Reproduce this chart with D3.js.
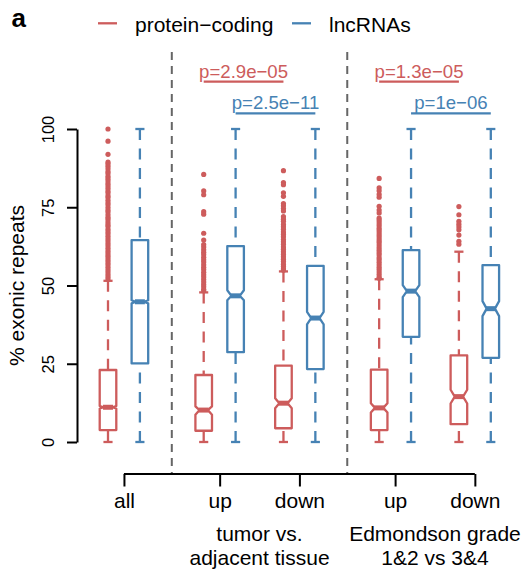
<!DOCTYPE html>
<html>
<head>
<meta charset="utf-8">
<script src="https://cdn.jsdelivr.net/npm/d3@7"></script>
<style>
  html, body { margin: 0; padding: 0; background: #fff; }
  svg { display: block; font-family: "Liberation Sans", Arial, Helvetica, sans-serif; }
</style>
</head>
<body>
<svg id="chart" width="525" height="570"></svg>
<script>
// Categories along the x axis and the section each one belongs to
const categories = ["all", "up", "down", "up", "down"];
const sectionOf = [0, 1, 1, 2, 2];
const sectionLabels = [[], ["tumor vs.", "adjacent tissue"], ["Edmondson grade", "1&2 vs 3&4"]];
const seriesNames = ["protein\u2212coding", "lncRNAs"];
const yTicks = [0, 25, 50, 75, 100];

// Box statistics, protein-coding genes (% exonic repeats)
const pcLow = [0, 0, 0, 0, 0];
const pcQ1 = [3.8, 3.6, 4.4, 3.8, 5.7];
const pcMed = [11.1, 10.2, 12.4, 10.9, 14.5];
const pcQ3 = [23.0, 21.4, 24.4, 23.1, 27.7];
const pcHigh = [51.5, 47.8, 54.5, 52.0, 60.8];
const pcNotchLo = [10.7, 8.7, 10.8, 9.4, 12.3];
const pcNotchHi = [11.5, 11.4, 14.0, 12.4, 16.7];
const pcOutliers = [
  [100, 96.1, 91.9, 89.4, 88.8, 88.1, 87.3, 86.4, 85.8, 84.9, 84.2, 83.5, 82.6, 81.9, 81.1,
   80.2, 79.6, 78.7, 78.1, 77.2, 76.4, 75.8, 74.9, 74.1, 73.5, 72.6, 71.8, 71.2, 70.3, 69.5,
   68.9, 68.0, 67.2, 66.5, 65.7, 64.9, 64.2, 63.4, 62.7, 61.9, 61.1, 60.4, 59.6, 58.9, 58.1,
   57.3, 56.6, 55.8, 55.0, 54.3, 53.5, 52.8, 52.1],
  [85.5, 80.2, 79.0, 73.6, 72.8, 66.7, 64.5, 63.1, 62.3, 61.4, 60.6, 59.9, 59.0, 58.2, 57.5,
   56.6, 55.8, 55.1, 54.2, 53.4, 52.7, 51.9, 51.1, 50.3, 49.6, 48.8, 48.3],
  [86.7, 82.9, 82.2, 79.6, 78.5, 76.2, 75.5, 74.6, 73.8, 72.0, 71.2, 70.5, 69.5, 68.8, 68.0,
   67.1, 66.4, 65.6, 64.7, 64.0, 63.2, 62.3, 61.6, 60.8, 60.0, 59.2, 58.4, 57.7, 56.8, 56.1,
   55.3, 54.9],
  [84.2, 81.2, 80.3, 79.1, 78.2, 75.3, 74.1, 73.2, 71.5, 70.8, 70.0, 69.2, 68.3, 67.6, 66.8,
   66.0, 65.2, 64.4, 63.7, 62.9, 62.1, 61.3, 60.5, 59.8, 58.9, 58.2, 57.4, 56.6, 55.8, 55.1,
   54.3, 53.5, 52.7, 52.3],
  [75.2, 72.6, 70.5, 69.6, 68.7, 67.8, 66.1, 64.1, 63.2]
];

// Box statistics, lncRNAs
const lncLow = [0, 0, 0, 0, 0];
const lncQ1 = [25.1, 28.7, 23.3, 33.6, 26.9];
const lncMed = [44.8, 46.7, 39.6, 48.2, 42.6];
const lncQ3 = [64.5, 62.6, 56.3, 61.3, 56.5];
const lncHigh = [100, 100, 100, 100, 100];
const lncNotchLo = [44.3, 45.3, 37.6, 46.3, 40.2];
const lncNotchHi = [45.3, 48.5, 41.6, 50.1, 45.0];
const lncOutliers = [[], [], [], [], []];

// Wilcoxon p-values for up vs down within each comparison section
const pSections = [1, 2];
const pcPValues = ["p=2.9e\u221205", "p=1.3e\u221205"];
const lncPValues = ["p=2.5e\u221211", "p=1e\u221206"];

const colors = ["#CD5C5C", "#4682B4"];
const font = 21;

const svg = d3.select("#chart");

// Box slot positions: pairs 2.5 apart inside a section, 3 apart across sections
const slot = [];
categories.forEach((c, i) => {
  if (i === 0) slot.push(1);
  else slot.push(slot[i - 1] + (sectionOf[i] !== sectionOf[i - 1] ? 3 : 2.5));
});
const dividers = slot.filter((p, i) => i > 0 && sectionOf[i] !== sectionOf[i - 1]).map(p => p - 1);

const x = d3.scaleLinear().domain([1, 13]).range([108, 490.8]);
const y = d3.scaleLinear().domain([0, 100]).range([442, 129]);
const halfW = x(1.26) - x(1);

// Section dividers
svg.append("g").selectAll("line").data(dividers).join("line")
  .attr("x1", d => x(d)).attr("x2", d => x(d))
  .attr("y1", 52).attr("y2", 473)
  .attr("stroke", "#666").attr("stroke-width", 2)
  .attr("stroke-dasharray", "8,6");

// Y axis
const yAxis = svg.append("g").attr("transform", "translate(77,0)")
  .call(d3.axisLeft(y).tickValues(yTicks).tickSize(10).tickSizeOuter(0));
yAxis.select(".domain").attr("stroke", "#000").attr("stroke-width", 2);
yAxis.selectAll(".tick line").attr("stroke", "#000").attr("stroke-width", 2);
yAxis.selectAll(".tick text")
  .attr("x", 0).attr("dy", 0)
  .attr("transform", "translate(-23.5,0) rotate(-90)")
  .attr("text-anchor", "middle")
  .attr("font-size", 16.5).attr("fill", "#000")
  .attr("font-family", "Liberation Sans, Arial, sans-serif");

svg.append("text")
  .attr("transform", `translate(24,${(y(0) + y(100)) / 2}) rotate(-90)`)
  .attr("text-anchor", "middle").attr("font-size", font)
  .text("% exonic repeats");

// X axis: line spans from first to last category tick
const centers = slot.map(p => p + 0.5);
const xAxis = svg.append("g").attr("transform", "translate(0,474)")
  .call(d3.axisBottom(x).tickValues(centers).tickFormat((d, i) => categories[i]).tickSize(12.5).tickSizeOuter(0));
xAxis.select(".domain").remove();
xAxis.append("line")
  .attr("x1", x(centers[0])).attr("x2", x(centers[centers.length - 1]))
  .attr("stroke", "#000").attr("stroke-width", 2);
xAxis.selectAll(".tick line").attr("stroke", "#000").attr("stroke-width", 2);
xAxis.selectAll(".tick text")
  .attr("y", 34).attr("dy", 0)
  .attr("font-size", font).attr("fill", "#000")
  .attr("font-family", "Liberation Sans, Arial, sans-serif");

// Section labels under the category ticks
sectionLabels.forEach((lines, s) => {
  if (!lines.length) return;
  const idx = sectionOf.map((v, i) => v === s ? i : -1).filter(i => i >= 0);
  const cx = d3.mean(idx, i => x(centers[i]));
  lines.forEach((t, k) => {
    svg.append("text").attr("x", cx).attr("y", 540.5 + k * 24)
      .attr("text-anchor", "middle").attr("font-size", font).text(t);
  });
});

// Notched boxplots
const seriesStats = [
  { low: pcLow, q1: pcQ1, med: pcMed, q3: pcQ3, high: pcHigh, nlo: pcNotchLo, nhi: pcNotchHi, out: pcOutliers },
  { low: lncLow, q1: lncQ1, med: lncMed, q3: lncQ3, high: lncHigh, nlo: lncNotchLo, nhi: lncNotchHi, out: lncOutliers }
];

seriesStats.forEach((st, si) => {
  const col = colors[si];
  const g = svg.append("g");
  categories.forEach((c, i) => {
    const cx = x(slot[i] + si);
    // whiskers drawn from the extremes toward the box
    [[st.low[i], st.q1[i]], [st.high[i], st.q3[i]]].forEach(([a, b]) => {
      g.append("line").attr("x1", cx).attr("x2", cx).attr("y1", y(a)).attr("y2", y(b))
        .attr("stroke", col).attr("stroke-width", 2.3).attr("stroke-dasharray", "11,8.5");
      g.append("line").attr("x1", cx - halfW * 0.55).attr("x2", cx + halfW * 0.55)
        .attr("y1", y(a)).attr("y2", y(a))
        .attr("stroke", col).attr("stroke-width", 2.3);
    });
    const pts = [
      [cx - halfW, y(st.q1[i])], [cx + halfW, y(st.q1[i])], [cx + halfW, y(st.nlo[i])],
      [cx + halfW * 0.5, y(st.med[i])], [cx + halfW, y(st.nhi[i])], [cx + halfW, y(st.q3[i])],
      [cx - halfW, y(st.q3[i])], [cx - halfW, y(st.nhi[i])], [cx - halfW * 0.5, y(st.med[i])],
      [cx - halfW, y(st.nlo[i])]
    ];
    g.append("path").attr("d", "M" + pts.map(p => p.join(",")).join("L") + "Z")
      .attr("fill", "#fff").attr("stroke", col).attr("stroke-width", 2.3)
      .attr("stroke-linejoin", "round");
    g.append("line").attr("x1", cx - halfW * 0.6).attr("x2", cx + halfW * 0.6)
      .attr("y1", y(st.med[i])).attr("y2", y(st.med[i]))
      .attr("stroke", col).attr("stroke-width", 5);
    g.selectAll(null).data(st.out[i]).join("circle")
      .attr("cx", cx).attr("cy", d => y(d)).attr("r", 2.6).attr("fill", col);
  });
});

// p-value brackets between up and down within each section
[pcPValues, lncPValues].forEach((vals, si) => {
  const ly = si === 0 ? 81.7 : 113.3;
  pSections.forEach((s, k) => {
    const idx = sectionOf.map((v, i) => v === s ? i : -1).filter(i => i >= 0);
    const x1 = x(slot[idx[0]] + si), x2 = x(slot[idx[1]] + si);
    svg.append("line").attr("x1", x1).attr("x2", x2).attr("y1", ly).attr("y2", ly)
      .attr("stroke", colors[si]).attr("stroke-width", 2.3);
    svg.append("text").attr("x", (x1 + x2) / 2).attr("y", ly - 4)
      .attr("text-anchor", "middle").attr("font-size", 18.6).attr("fill", colors[si])
      .text(vals[k]);
  });
});

// Legend
const legendX = [98, 292];
seriesNames.forEach((name, si) => {
  svg.append("line").attr("x1", legendX[si]).attr("x2", legendX[si] + 19)
    .attr("y1", 23.3).attr("y2", 23.3).attr("stroke", colors[si]).attr("stroke-width", 2.3);
  svg.append("text").attr("x", legendX[si] + 37).attr("y", 32)
    .attr("font-size", font).attr("fill", "#000").text(name);
});

// Panel letter
svg.append("text").attr("x", 11.5).attr("y", 26.7)
  .attr("font-size", 26).attr("font-weight", "bold").text("a");
</script>
</body>
</html>
